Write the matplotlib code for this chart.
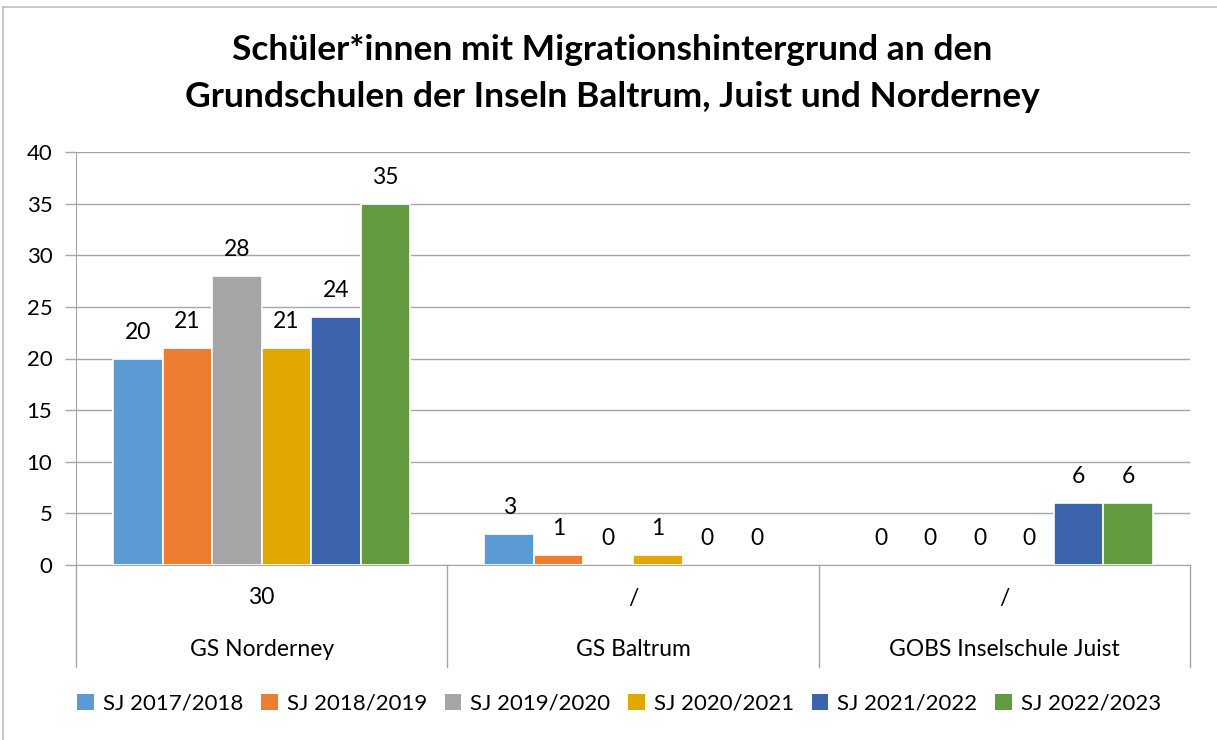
import matplotlib
matplotlib.use("Agg")
import matplotlib.pyplot as plt
import numpy as np
from matplotlib.lines import Line2D
from matplotlib.patches import Patch

plt.rcParams['font.family'] = ['Lato', 'DejaVu Sans']

schools = ["GS Norderney", "GS Baltrum", "GOBS Inselschule Juist"]
sub_labels = ["30", "/", "/"]
series_names = ["SJ 2017/2018", "SJ 2018/2019", "SJ 2019/2020",
                "SJ 2020/2021", "SJ 2021/2022", "SJ 2022/2023"]
sj_2017 = [20, 3, 0]
sj_2018 = [21, 1, 0]
sj_2019 = [28, 0, 0]
sj_2020 = [21, 1, 0]
sj_2021 = [24, 0, 6]
sj_2022 = [35, 0, 6]
series = [sj_2017, sj_2018, sj_2019, sj_2020, sj_2021, sj_2022]
colors = ["#5B9BD5", "#ED7D31", "#A5A5A5", "#E1A900", "#3C64AC", "#639B3F"]

W, H = 1217, 740
fig = plt.figure(figsize=(W / 100, H / 100), dpi=100)
ax = fig.add_axes([76 / W, 1 - 565 / H, (1190 - 76) / W, (565 - 152) / H])

x = np.arange(len(schools))
n = len(series)
w = 0.8 / n
for i, (vals, c, name) in enumerate(zip(series, colors, series_names)):
    pos = x + (i - (n - 1) / 2) * w
    lws = [1.2 if v > 0 else 0 for v in vals]
    ax.bar(pos, vals, width=w, color=c, edgecolor="white", linewidth=lws,
           label=name, zorder=3)
    for p, v in zip(pos, vals):
        ax.annotate(str(v), (p, v), xytext=(0, 19), textcoords="offset points",
                    ha="center", va="center", fontsize=16.5, color="black")

ax.set_xlim(-0.5, len(schools) - 0.5)
ax.set_ylim(0, 40)
ax.set_yticks(np.arange(0, 41, 5))
ax.yaxis.grid(True, color="#A6A6A6", linewidth=1.0, zorder=0)
ax.set_axisbelow(True)
ax.tick_params(axis="y", labelsize=16, length=8, color="#A6A6A6", width=1, pad=9)
ax.set_xticks([])
for s in ["top", "right"]:
    ax.spines[s].set_visible(False)
ax.spines["left"].set_color("#A6A6A6")
ax.spines["bottom"].set_color("#A6A6A6")
ax.spines["left"].set_bounds(0, 40)

# multi-level category axis
axh = 565 - 152
low = -(667 - 565) / axh
for sep in np.arange(-0.5, len(schools), 1.0):
    ax.plot([sep, sep], [0, low], transform=ax.get_xaxis_transform(),
            color="#A6A6A6", linewidth=1.0, clip_on=False)
for xi, (sch, sub) in enumerate(zip(schools, sub_labels)):
    ax.text(xi, -(598 - 565) / axh, sub, transform=ax.get_xaxis_transform(),
            ha="center", va="center", fontsize=16.5)
    ax.text(xi, -(650 - 565) / axh, sch, transform=ax.get_xaxis_transform(),
            ha="center", va="center", fontsize=16.5)

fig.text(612 / W, 1 - 50 / H, "Schüler*innen mit Migrationshintergrund an den",
         ha="center", va="center", fontsize=25.5, fontweight="bold")
fig.text(612 / W, 1 - 97 / H, "Grundschulen der Inseln Baltrum, Juist und Norderney",
         ha="center", va="center", fontsize=25.5, fontweight="bold")

handles = [Patch(facecolor=c, edgecolor="none") for c in colors]
fig.legend(handles, series_names, loc="center", bbox_to_anchor=(619 / W, 1 - 704 / H),
           ncol=6, frameon=False, fontsize=16, handlelength=0.75, handleheight=0.75,
           handletextpad=0.4, columnspacing=0.8)

# chart border
fig.add_artist(Line2D([3 / W, 1], [1 - 7 / H, 1 - 7 / H], transform=fig.transFigure,
                      color="#BFBFBF", linewidth=1.2))
fig.add_artist(Line2D([3 / W, 3 / W], [0, 1 - 7 / H], transform=fig.transFigure,
                      color="#BFBFBF", linewidth=1.2))

fig.savefig("out.png", dpi=100)
